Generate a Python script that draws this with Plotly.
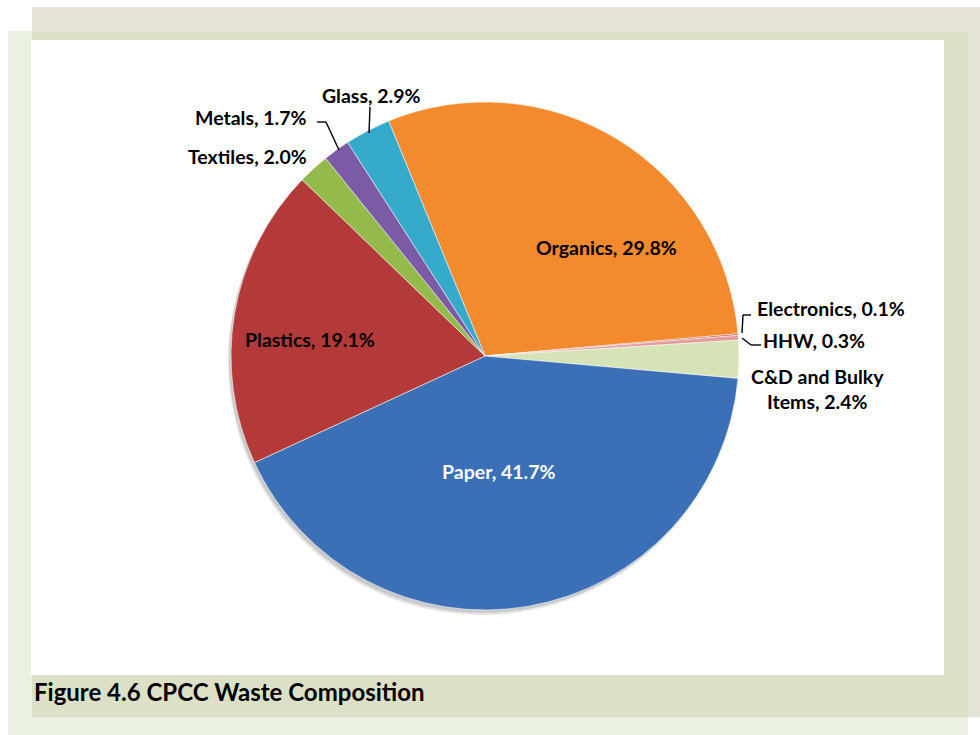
import plotly.graph_objects as go

# ---- data ----
categories = ["Organics", "Electronics", "HHW", "C&D and Bulky Items", "Paper",
              "Plastics", "Textiles", "Metals", "Glass"]
shares = [29.8, 0.1, 0.3, 2.4, 41.7, 19.1, 2.0, 1.7, 2.9]
slice_colors = ["#f38a2e", "#b85450", "#e39a9a", "#d6e3b6", "#3b6fb6",
                "#b33a38", "#93ba4a", "#7b5aa6", "#35aacb"]
title_text = "Figure 4.6 CPCC Waste Composition"

W, H = 980, 735


def px(x):
    return x / W


def py(y):
    return 1 - y / H


# pie geometry (pixels)
cx, cy, r = 485, 356, 254
dom_x = [px(cx - r), px(cx + r)]
dom_y = [py(cy + r), py(cy - r)]

fig = go.Figure()

# soft shadow
for dx, dy, a in [(-3, 5, 0.10), (-2, 3, 0.12)]:
    fig.add_trace(go.Pie(
        values=[1], labels=["shadow"], sort=False, textinfo="none",
        hoverinfo="skip", showlegend=False,
        marker=dict(colors=[f"rgba(0,0,0,{a})"], line=dict(width=0)),
        domain=dict(x=[px(cx - r + dx), px(cx + r + dx)],
                    y=[py(cy + r + dy), py(cy - r + dy)]),
    ))

fig.add_trace(go.Pie(
    labels=categories, values=shares, sort=False, direction="clockwise",
    rotation=337.7, textinfo="none", showlegend=False,
    marker=dict(colors=slice_colors, line=dict(color="rgba(255,255,255,0.55)", width=1)),
    domain=dict(x=dom_x, y=dom_y),
))

# ---- background frame ----
shapes = [
    dict(type="rect", xref="paper", yref="paper", x0=px(32), x1=px(980), y0=py(717), y1=py(7),
         fillcolor="#e6e4d8", line=dict(width=0), layer="below"),
    dict(type="rect", xref="paper", yref="paper", x0=px(8), x1=px(968), y0=py(735), y1=py(31),
         fillcolor="rgba(200,216,170,0.36)", line=dict(width=0), layer="below"),
    dict(type="rect", xref="paper", yref="paper", x0=px(31), x1=px(944), y0=py(675), y1=py(40),
         fillcolor="white", line=dict(width=0), layer="below"),
]

# leader lines (pixel paths)
leaders = [
    [(370, 107), (369, 133)],                      # Glass
    [(317, 122), (326, 122), (339, 150)],          # Metals
    [(751, 315), (743, 315), (742, 333)],          # Electronics
    [(742, 338), (751, 345), (761, 345)],          # HHW
]
for pts in leaders:
    for (x0, y0), (x1, y1) in zip(pts[:-1], pts[1:]):
        shapes.append(dict(type="line", xref="paper", yref="paper",
                           x0=px(x0), y0=py(y0), x1=px(x1), y1=py(y1),
                           line=dict(color="black", width=1.4)))

# ---- labels ----
label_pos = {
    "Organics": (606, 248, "black"),
    "Electronics": (831, 309, "black"),
    "HHW": (814, 340, "black"),
    "C&D and Bulky Items": (817, 389, "black"),
    "Paper": (498, 471, "white"),
    "Plastics": (310, 339, "black"),
    "Textiles": (248, 157, "black"),
    "Metals": (251, 117, "black"),
    "Glass": (371, 95, "black"),
}
annotations = []
for cat, val in zip(categories, shares):
    x, y, col = label_pos[cat]
    name = cat.replace("&", "&amp;")
    if cat == "C&D and Bulky Items":
        txt = f"C&amp;D and Bulky<br>Items, {val:.1f}%"
    else:
        txt = f"{name}, {val:.1f}%"
    annotations.append(dict(x=px(x), y=py(y), xref="paper", yref="paper", text=txt,
                            showarrow=False, xanchor="center", yanchor="middle",
                            font=dict(family="Lato", size=19.5, color=col, weight="bold"),
                            align="center"))

annotations.append(dict(x=px(32), y=py(691), xref="paper", yref="paper",
                        text=title_text, showarrow=False,
                        xanchor="left", yanchor="middle",
                        font=dict(family="Lato", size=24, color="black", weight="bold")))

fig.update_layout(
    width=W, height=H, margin=dict(l=0, r=0, t=0, b=0),
    paper_bgcolor="white", plot_bgcolor="white",
    shapes=shapes, annotations=annotations, showlegend=False,
    font=dict(family="Lato"),
)

fig.write_html("out.html")
